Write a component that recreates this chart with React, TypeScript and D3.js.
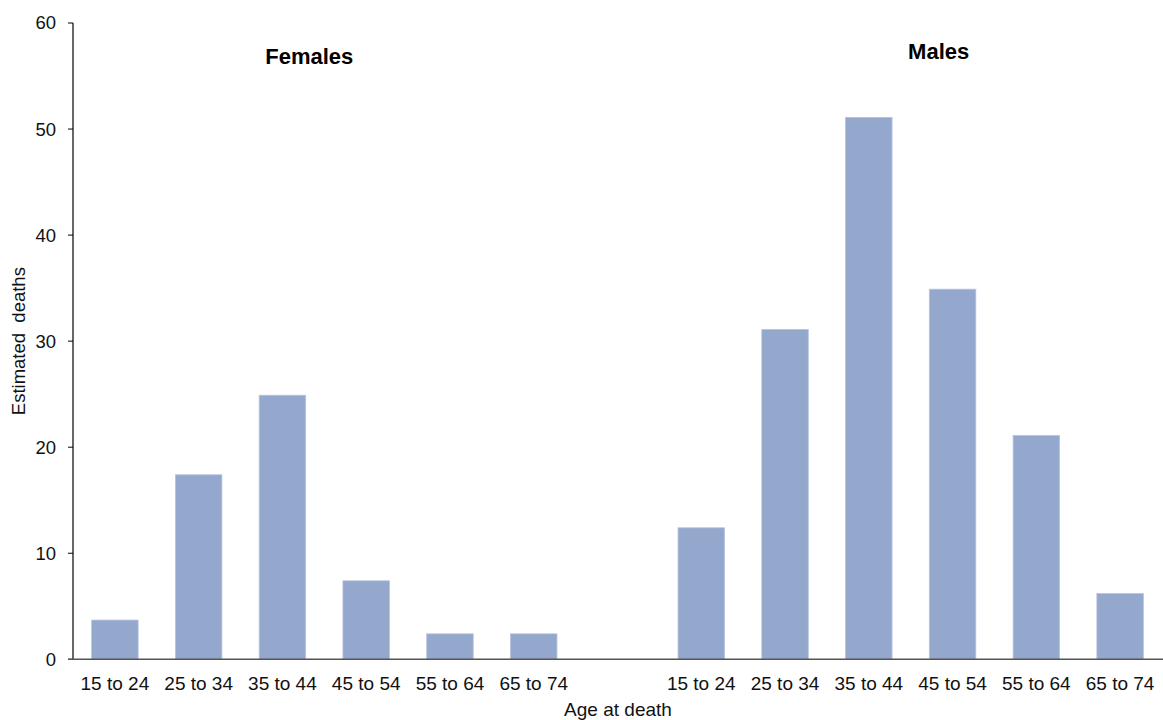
import React from "react";
import * as d3 from "d3";

const ageGroups = ["15 to 24", "25 to 34", "35 to 44", "45 to 54", "55 to 64", "65 to 74"];
const femaleValues = [3.7, 17.4, 24.9, 7.4, 2.4, 2.4];
const maleValues = [12.4, 31.1, 51.1, 34.9, 21.1, 6.2];
const yTicks = [0, 10, 20, 30, 40, 50, 60];

const W = 1163;
const H = 720;
const margin = { left: 73, right: 1, top: 23, bottom: 61 };

export default function App() {
  const slots = [
    ...ageGroups.map((g, i) => ({ key: "F" + i, label: g, value: femaleValues[i] })),
    { key: "gap", label: "", value: null as number | null },
    ...ageGroups.map((g, i) => ({ key: "M" + i, label: g, value: maleValues[i] })),
  ];
  const x = d3
    .scaleBand<string>()
    .domain(slots.map((s) => s.key))
    .range([margin.left, W - margin.right])
    .paddingInner(0.445)
    .paddingOuter(0.2225);
  const y = d3.scaleLinear().domain([0, 60]).range([H - margin.bottom + 0.3, margin.top]);
  const font = "Liberation Sans, Arial, sans-serif";
  const fCenter = (x("F2")! + x("F3")! + x.bandwidth()) / 2;
  const mCenter = (x("M2")! + x("M3")! + x.bandwidth()) / 2;
  return (
    <svg width={W} height={H} style={{ position: "absolute", left: 0, top: 0 }} fontFamily={font}>
      <rect width={W} height={H} fill="#fff" />
      {slots
        .filter((s) => s.value !== null)
        .map((s) => (
          <rect
            key={s.key}
            x={x(s.key)!}
            y={y(s.value as number)}
            width={x.bandwidth()}
            height={y(0) - y(s.value as number)}
            fill="#94A7CD"
            stroke="#B5C3DE"
            strokeWidth={0.8}
          />
        ))}
      {/* y axis */}
      <line x1={margin.left} x2={margin.left} y1={y(60)} y2={y(0)} stroke="#000" strokeWidth={1.2} />
      {yTicks.map((t) => (
        <g key={t}>
          <line x1={margin.left - 5} x2={margin.left} y1={y(t)} y2={y(t)} stroke="#000" strokeWidth={1} />
          <text x={56} y={y(t)} dy="0.35em" textAnchor="end" fontSize={18.5} fill="#111">
            {t}
          </text>
        </g>
      ))}
      {/* x axis */}
      <line x1={margin.left - 5} x2={W} y1={y(0)} y2={y(0)} stroke="#555" strokeWidth={1.5} />
      {slots
        .filter((s) => s.label)
        .map((s) => (
          <text
            key={"l" + s.key}
            x={x(s.key)! + x.bandwidth() / 2}
            y={690}
            textAnchor="middle"
            fontSize={19}
            fill="#111"
          >
            {s.label}
          </text>
        ))}
      <text x={618} y={716} textAnchor="middle" fontSize={19} fill="#111">
        Age at death
      </text>
      <text
        transform={`translate(25, ${(y(0) + y(60)) / 2}) rotate(-90)`}
        textAnchor="middle"
        fontSize={18.5}
        fill="#111"
        style={{ whiteSpace: "pre" }}
      >
        {"Estimated  deaths"}
      </text>
      <text x={fCenter - 15} y={63.5} textAnchor="middle" fontSize={22} fontWeight="bold" fill="#000">
        Females
      </text>
      <text x={mCenter + 28} y={58.5} textAnchor="middle" fontSize={22} fontWeight="bold" fill="#000">
        Males
      </text>
    </svg>
  );
}
